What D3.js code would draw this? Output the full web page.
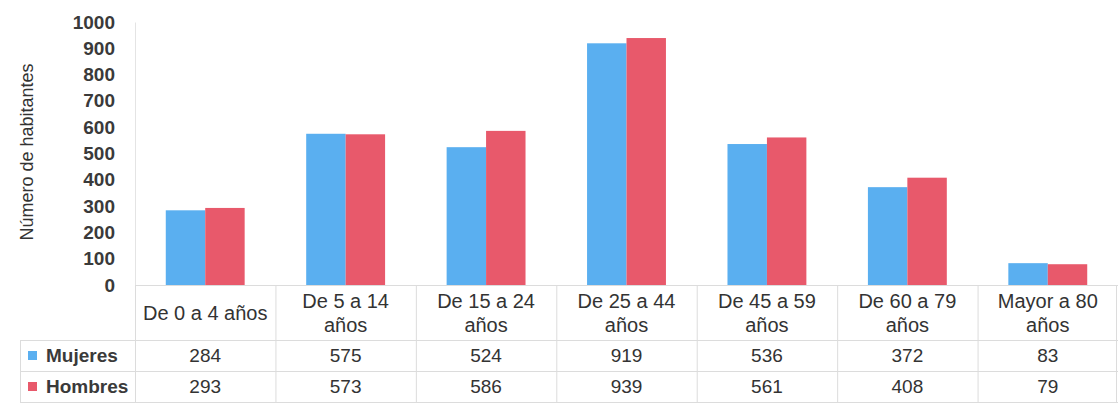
<!DOCTYPE html>
<html><head><meta charset="utf-8">
<script src="https://cdn.jsdelivr.net/npm/d3@7"></script>
<style>body{margin:0;background:#fff}svg{display:block}</style>
</head><body>
<script>
const categories = [["De 0 a 4 años"],["De 5 a 14","años"],["De 15 a 24","años"],["De 25 a 44","años"],["De 45 a 59","años"],["De 60 a 79","años"],["Mayor a 80","años"]];
const seriesNames = ["Mujeres","Hombres"];
const mujeres = [284,575,524,919,536,372,83];
const hombres = [293,573,586,939,561,408,79];
const yTicks = [0,100,200,300,400,500,600,700,800,900,1000];
const colors = ["#5aaff0","#e8596b"];

const W=1118,H=413;
const plotLeft=135,plotRight=1118,plotTop=22,plotBase=285;
const rowY=[340,371,402];
const font="'Liberation Sans',Arial,sans-serif";
const txt="#333";
const svg=d3.select("body").append("svg").attr("width",W).attr("height",H).style("font-family",font);

const x=d3.scaleBand().domain(d3.range(categories.length)).range([plotLeft,plotRight]);
const xi=d3.scaleBand().domain([0,1]).range([0,x.bandwidth()]).paddingOuter(0.78).paddingInner(0);
const y=d3.scaleLinear().domain([0,1000]).range([plotBase,plotTop]);

const data=[mujeres,hombres];
data.forEach((s,si)=>{
  svg.append("g").selectAll("rect").data(s).join("rect")
    .attr("x",(d,i)=>x(i)+xi(si)).attr("width",xi.bandwidth())
    .attr("y",d=>y(d)).attr("height",d=>plotBase-y(d)).attr("fill",colors[si]);
});

const ya=svg.append("g").attr("transform",`translate(${plotLeft},0)`)
  .call(d3.axisLeft(y).tickValues(yTicks).tickFormat(d3.format("d")).tickSize(0).tickPadding(20));
ya.select(".domain").attr("stroke","#e4e4e4");
ya.selectAll("text").style("font-family",font).style("font-size","19px").style("font-weight","bold").attr("fill","#3a3a3a");

svg.append("text").attr("transform","translate(33,152) rotate(-90)").attr("text-anchor","middle")
  .style("font-size","18px").attr("fill",txt).text("Número de habitantes");

const gridC="#dcdcdc";
svg.append("line").attr("x1",plotLeft).attr("x2",plotRight).attr("y1",plotBase+0.5).attr("y2",plotBase+0.5).attr("stroke",gridC);
rowY.forEach(ry=>svg.append("line").attr("x1",20).attr("x2",plotRight).attr("y1",ry+0.5).attr("y2",ry+0.5).attr("stroke",gridC));
d3.range(categories.length).forEach(i=>{
  const xx=x(i);
  svg.append("line").attr("x1",xx+0.5).attr("x2",xx+0.5).attr("y1",plotBase).attr("y2",rowY[2]).attr("stroke",gridC);
});
svg.append("line").attr("x1",plotRight-1.5).attr("x2",plotRight-1.5).attr("y1",plotBase).attr("y2",rowY[2]).attr("stroke",gridC);
svg.append("line").attr("x1",20.5).attr("x2",20.5).attr("y1",rowY[0]).attr("y2",rowY[2]).attr("stroke",gridC);

categories.forEach((c,i)=>{
  const cx=x(i)+x.bandwidth()/2;
  const t=svg.append("text").attr("text-anchor","middle").style("font-size","20px").attr("fill",txt);
  if(c.length===1){t.append("tspan").attr("x",cx).attr("y",320).text(c[0]);}
  else{t.append("tspan").attr("x",cx).attr("y",308).text(c[0]);t.append("tspan").attr("x",cx).attr("y",332).text(c[1]);}
});

const rowBase=[362,393];
data.forEach((s,si)=>{
  const cy=rowBase[si];
  s.forEach((v,i)=>svg.append("text").attr("x",x(i)+x.bandwidth()/2).attr("y",cy).attr("text-anchor","middle")
    .style("font-size","19px").attr("fill",txt).text(v));
  svg.append("rect").attr("x",28).attr("y",cy-11).attr("width",9).attr("height",9).attr("fill",colors[si]);
  svg.append("text").attr("x",46).attr("y",cy).style("font-size","19px").style("font-weight","bold").attr("fill","#3a3a3a").text(seriesNames[si]);
});
</script>
</body></html>
